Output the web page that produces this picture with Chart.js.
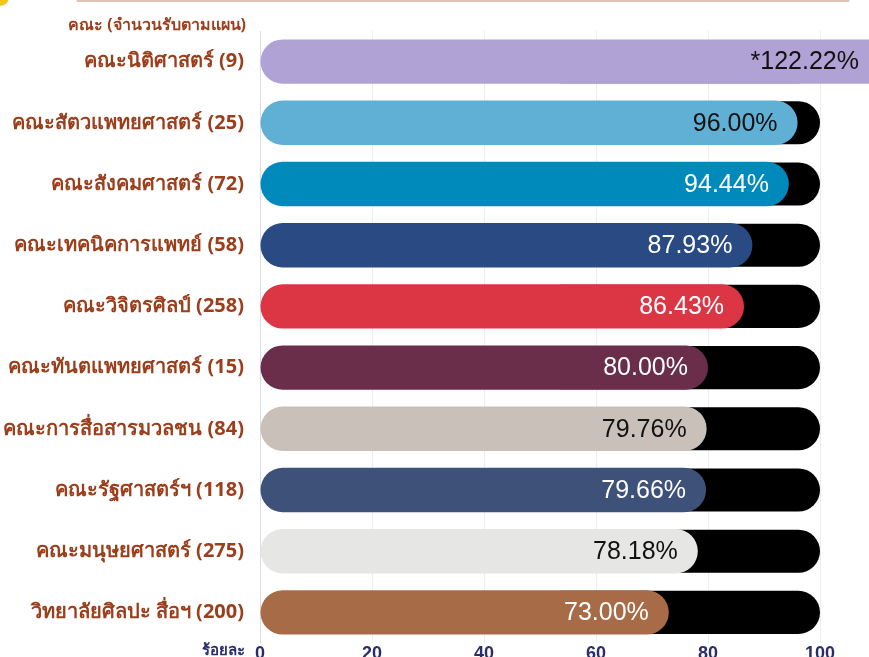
<!DOCTYPE html>
<html>
<head>
<meta charset="utf-8">
<script src="https://cdn.jsdelivr.net/npm/chart.js@4"></script>
<style>
  html, body { margin: 0; padding: 0; background: #ffffff; overflow: hidden; }
  #wrap { position: relative; width: 869px; height: 657px; }
</style>
</head>
<body>
<div id="wrap"><canvas id="c" width="869" height="657"></canvas></div>
<script>
const categories = [
  'คณะนิติศาสตร์ (9)',
  'คณะสัตวแพทยศาสตร์ (25)',
  'คณะสังคมศาสตร์ (72)',
  'คณะเทคนิคการแพทย์ (58)',
  'คณะวิจิตรศิลป์ (258)',
  'คณะทันตแพทยศาสตร์ (15)',
  'คณะการสื่อสารมวลชน (84)',
  'คณะรัฐศาสตร์ฯ (118)',
  'คณะมนุษยศาสตร์ (275)',
  'วิทยาลัยศิลปะ สื่อฯ (200)'
];
const percentValues = [122.22, 96.00, 94.44, 87.93, 86.43, 80.00, 79.76, 79.66, 78.18, 73.00];
const valueLabels = ['*122.22%', '96.00%', '94.44%', '87.93%', '86.43%', '80.00%', '79.76%', '79.66%', '78.18%', '73.00%'];
const fullValues = [100, 100, 100, 100, 100, 100, 100, 100, 100, 100];
const xTicks = [0, 20, 40, 60, 80, 100];
const axisTitle = 'คณะ (จำนวนรับตามแผน)';
const xUnitLabel = 'ร้อยละ';

const barColors = ['#b1a2d5', '#60b0d6', '#0089bb', '#294a82', '#dc3644', '#6a2e4b', '#c8c0b9', '#3e5179', '#e6e6e5', '#a76c47'];
const labelColors = ['#111111', '#111111', '#ffffff', '#ffffff', '#ffffff', '#ffffff', '#111111', '#ffffff', '#111111', '#ffffff'];

const brown = '#9b3e1c';
const navy = '#2b2d6b';
const thaiFont = '"Noto Sans", "Noto Sans CJK SC", sans-serif';

// black 100% track: drawn from the middle of the scale so its left end stays hidden under the coloured bar
const trackData = fullValues.map(v => [v / 2, v]);

const decoPlugin = {
  id: 'deco',
  beforeDraw(chart) {
    const ctx = chart.ctx;
    ctx.save();
    ctx.strokeStyle = '#dfc3b6';
    ctx.lineWidth = 3;
    ctx.lineCap = 'round';
    ctx.beginPath();
    ctx.moveTo(78, 0.5);
    ctx.lineTo(848, 0.5);
    ctx.stroke();
    ctx.fillStyle = '#f6c51b';
    ctx.beginPath();
    ctx.arc(0, -3, 9, 0, Math.PI * 2);
    ctx.fill();
    ctx.fillStyle = brown;
    ctx.font = 'bold 16px ' + thaiFont;
    ctx.textAlign = 'right';
    ctx.textBaseline = 'middle';
    ctx.fillText(axisTitle, 246, 25);
    ctx.fillStyle = navy;
    ctx.font = 'bold 15px ' + thaiFont;
    ctx.fillText(xUnitLabel, 245, 651);
    ctx.restore();
  },
  afterDatasetsDraw(chart) {
    const ctx = chart.ctx;
    const meta = chart.getDatasetMeta(0);
    ctx.save();
    ctx.font = '25px "Liberation Sans", Arial, sans-serif';
    ctx.textAlign = 'right';
    ctx.textBaseline = 'middle';
    meta.data.forEach((el, i) => {
      const end = Math.min(el.x, chart.width + 10);
      ctx.fillStyle = labelColors[i];
      ctx.fillText(valueLabels[i], end - 20, el.y + 1);
    });
    ctx.restore();
  }
};

new Chart(document.getElementById('c'), {
  type: 'bar',
  data: {
    labels: categories,
    datasets: [
      {
        data: percentValues,
        backgroundColor: barColors,
        borderRadius: 40,
        borderSkipped: false,
        barPercentage: 0.725,
        categoryPercentage: 1,
        clip: false,
        order: 0
      },
      {
        data: trackData,
        backgroundColor: '#000000',
        borderRadius: 40,
        borderSkipped: false,
        barPercentage: 0.705,
        categoryPercentage: 1,
        order: 1
      }
    ]
  },
  plugins: [decoPlugin],
  options: {
    indexAxis: 'y',
    responsive: false,
    animation: false,
    grouped: false,
    layout: { padding: { top: 31, right: 49, bottom: 0, left: 0 } },
    plugins: { legend: { display: false }, tooltip: { enabled: false } },
    scales: {
      x: {
        min: 0,
        max: 100,
        afterBuildTicks(scale) { scale.ticks = xTicks.map(v => ({ value: v })); },
        grid: { color: '#ececf2', lineWidth: 1, drawTicks: false },
        border: { display: false },
        ticks: {
          color: navy,
          font: { family: '"Liberation Sans", Arial, sans-serif', size: 18, weight: 'bold' },
          padding: 0
        },
        afterFit(scale) {
          scale.height = 14;
          scale.paddingLeft = 0;
          scale.paddingRight = 0;
        }
      },
      y: {
        grid: { display: false },
        border: { display: true, color: '#dcdce6', width: 1 },
        ticks: {
          color: brown,
          font: { family: thaiFont, size: 20, weight: 'bold' },
          padding: 8
        },
        afterFit(scale) {
          scale.width = 260;
          scale.paddingTop = 0;
          scale.paddingBottom = 0;
        }
      }
    }
  }
});
</script>
</body>
</html>
